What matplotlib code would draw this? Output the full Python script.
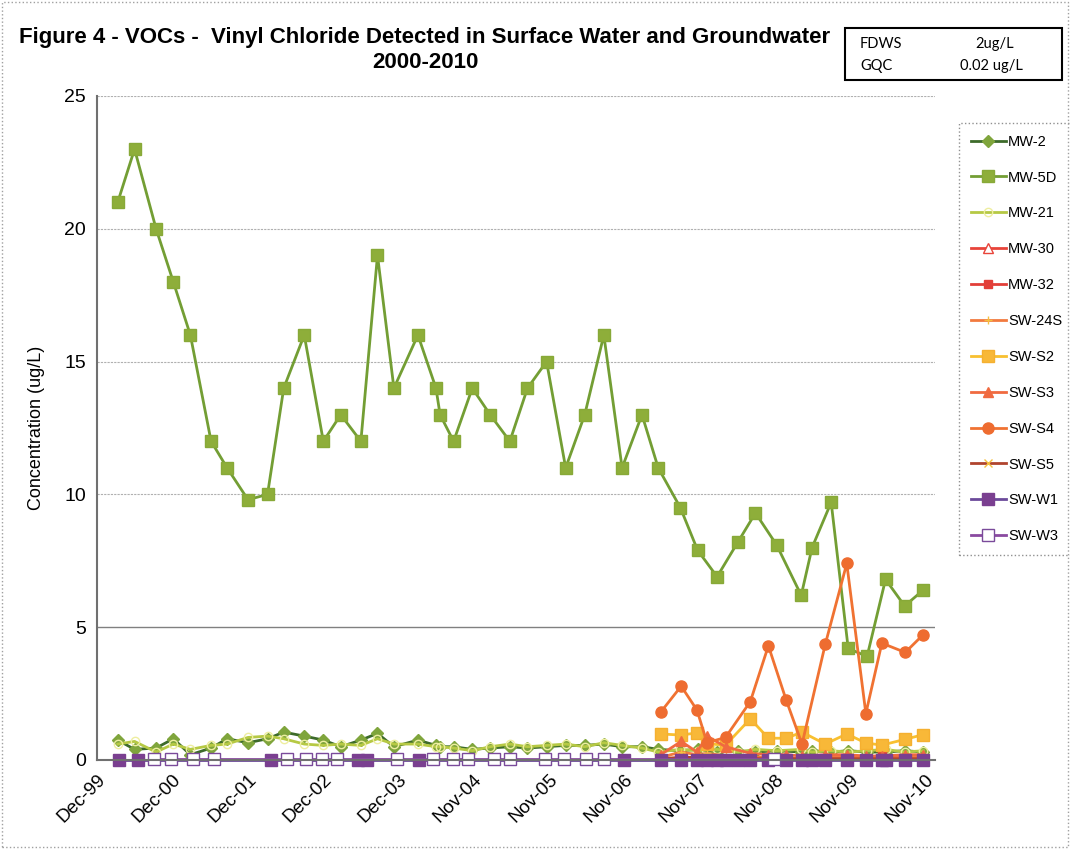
import numpy as np
import pandas as pd
import matplotlib
matplotlib.use("Agg")
import matplotlib.pyplot as plt
from matplotlib.patches import Rectangle

plt.rcParams['font.family'] = ['Liberation Sans', 'DejaVu Sans']

# sampling dates of the monitoring wells (MW series)
mw_dates = ['2000-03-18', '2000-06-08', '2000-09-21', '2000-12-14', '2001-03-07', '2001-06-16',
            '2001-09-02', '2001-12-13', '2002-03-18', '2002-06-05', '2002-09-13', '2002-12-15',
            '2003-03-10', '2003-06-16', '2003-09-05', '2003-11-24', '2004-03-20', '2004-06-16',
            '2004-07-06', '2004-09-10', '2004-12-10', '2005-03-07', '2005-06-11', '2005-09-05',
            '2005-12-07', '2006-03-10', '2006-06-11', '2006-09-12', '2006-12-10', '2007-03-17',
            '2007-06-04', '2007-09-20', '2007-12-13', '2008-03-17', '2008-06-26', '2008-09-20',
            '2009-01-01', '2009-05-01', '2009-06-23', '2009-09-24', '2009-12-16', '2010-03-18',
            '2010-06-16', '2010-09-17', '2010-12-17']

mw_5d = [21, 23, 20, 18, 16, 12, 11, 9.8, 10, 14, 16, 12, 13, 12, 19, 14, 16, 14, 13, 12,
         14, 13, 12, 14, 15, 11, 13, 16, 11, 13, 11, 9.5, 7.9, 6.9, 8.2, 9.3, 8.1, 6.2, 8.0, 9.7,
         4.2, 3.9, 6.8, 5.8, 6.4]

mw_2 = [0.75, 0.4, 0.45, 0.8, 0.2, 0.45, 0.8, 0.65, 0.8, 1.05, 0.9, 0.75, 0.5, 0.75, 1.0,
        0.5, 0.75, 0.55, 0.5, 0.5, 0.4, 0.45, 0.5, 0.45, 0.5, 0.55, 0.55, 0.6, 0.5, 0.5,
        0.4, 0.35, 0.4, 0.3, 0.35, 0.3, 0.35, 0.3, 0.35, 0.3, 0.35, 0.3, 0.3, 0.35, 0.3]

mw_21 = [0.6, 0.7, 0.3, 0.6, 0.4, 0.55, 0.6, 0.85, 0.9, 0.8, 0.6, 0.55, 0.6, 0.55, 0.8,
         0.6, 0.6, 0.5, 0.5, 0.45, 0.35, 0.5, 0.6, 0.5, 0.55, 0.6, 0.5, 0.65, 0.55, 0.45,
         0.3, 0.4, 0.35, 0.4, 0.3, 0.4, 0.35, 0.4, 0.3, 0.35, 0.3, 0.35, 0.4, 0.3, 0.35]

# surface water sampling dates 2007-2010
sw_dates = ['2007-06-16', '2007-09-24', '2007-12-10', '2008-01-28', '2008-04-27', '2008-08-26',
            '2008-11-22', '2009-02-17', '2009-05-05', '2009-08-26', '2009-12-09', '2010-03-12',
            '2010-05-29', '2010-09-20', '2010-12-14']

sw_s2 = [0.98, 0.94, 1.02, 0.62, 0.56, 1.55, 0.82, 0.82, 1.05, 0.6, 0.98, 0.64, 0.56, 0.78, 0.95]
sw_s4 = [1.8, 2.78, 1.88, 0.65, 0.85, 2.2, 4.3, 2.25, 0.6, 4.35, 7.4, 1.75, 4.4, 4.05, 4.7]
sw_s3 = [0.2, 0.7, 0.3, 0.9, 0.5, 0.25, 0.2, 0.2, 0.15, 0.2, 0.2, 0.15, 0.15, 0.2, 0.2]
sw_24s = [0.1, 0.3, 0.2, 0.25, 0.15, 0.1, 0.1, 0.1, 0.05, 0.1, 0.1, 0.1, 0.05, 0.1, 0.1]
sw_s5 = [0.05, 0.1, 0.1, 0.1, 0.05, 0.05, 0.05, 0.05, 0.05, 0.05, 0.05, 0.05, 0.05, 0.05, 0.05]
mw_30 = [0.0, 0.05, 0.05, 0.0, 0.05, 0.05, 0.0, 0.05, 0.0, 0.05, 0.05, 0.0, 0.15, 0.05, 0.0]
mw_32 = [0.0, 0.0, 0.05, 0.05, 0.0, 0.0, 0.05, 0.0, 0.05, 0.0, 0.0, 0.05, 0.2, 0.05, 0.0]

# SW-W1 and SW-W3 are essentially non-detects (0)
w1_dates = ['2000-03-25', '2000-06-25', '2002-04-05', '2003-06-01', '2003-07-15', '2004-03-25',
            '2006-12-20'] + sw_dates + ['2008-03-17', '2008-06-26', '2009-06-23', '2010-06-16']
w1_dates = sorted(w1_dates)
sw_w1 = [0.0] * len(w1_dates)

w3_dates = ['2000-09-10', '2000-12-01', '2001-03-20', '2001-06-30', '2002-06-20', '2002-09-20',
            '2002-12-10', '2003-02-20', '2003-12-10', '2004-06-01', '2004-09-05', '2004-11-20',
            '2005-03-25', '2005-06-10', '2005-12-01', '2006-03-01', '2006-06-15', '2006-09-15',
            '2008-12-20']
sw_w3 = [0.02] * len(w3_dates)

tick_dates = pd.date_range('1999-12-08', periods=12, freq='367D')
tick_labels = ['Dec-99', 'Dec-00', 'Dec-01', 'Dec-02', 'Dec-03', 'Nov-04', 'Nov-05',
               'Nov-06', 'Nov-07', 'Nov-08', 'Nov-09', 'Nov-10']

mwd = pd.to_datetime(mw_dates)
swd = pd.to_datetime(sw_dates)

fig = plt.figure(figsize=(10.7, 8.49), dpi=100)
ax = fig.add_axes([97 / 1070, 1 - 760 / 849, (935 - 97) / 1070, (760 - 96) / 849])

lw = 2.0
ax.plot(mwd, mw_2, color='#3d6b2a', lw=lw, marker='D', ms=6, mfc='#7fa53c', mec='#7fa53c', label='MW-2')
ax.plot(mwd, mw_5d, color='#739e34', lw=lw, marker='s', ms=8, mfc='#8eae3a', mec='#88a938', label='MW-5D')
ax.plot(mwd, mw_21, color='#b6c944', lw=lw, marker='o', ms=6, mfc='none', mec='#eeeea0', label='MW-21')
ax.plot(swd, mw_30, color='#e8443a', lw=lw, marker='^', ms=7, mfc='white', mec='#e8443a', label='MW-30')
ax.plot(swd, mw_32, color='#e23e38', lw=lw, marker='s', ms=6, mfc='#e23e38', mec='#e23e38', label='MW-32')
ax.plot(swd, sw_24s, color='#f27a3e', lw=lw, marker='+', ms=6, mec='#f5c040', label='SW-24S')
ax.plot(swd, sw_s2, color='#f8c030', lw=lw, marker='s', ms=8, mfc='#f8b838', mec='#f5b030', label='SW-S2')
ax.plot(swd, sw_s3, color='#f06a40', lw=lw, marker='^', ms=7, mfc='#f06a40', mec='#f06a40', label='SW-S3')
ax.plot(swd, sw_s4, color='#f07232', lw=lw, marker='o', ms=8, mfc='#ee6c30', mec='#ee6c30', label='SW-S4')
ax.plot(swd, sw_s5, color='#b0442e', lw=lw, marker='x', ms=6, mec='#f5c040', label='SW-S5')
ax.plot(pd.to_datetime(w1_dates), sw_w1, color='#6b4a9a', lw=lw, marker='s', ms=8,
        mfc='#7a3f90', mec='#7a3f90', label='SW-W1', clip_on=False)
ax.plot(pd.to_datetime(w3_dates), sw_w3, color='#8a4aa0', lw=lw, marker='s', ms=8,
        mfc='white', mec='#7a4a9a', label='SW-W3', clip_on=False)

ax.set_ylim(0, 25)
ax.set_yticks([0, 5, 10, 15, 20, 25])
ax.set_xlim(pd.Timestamp('1999-12-12'), pd.Timestamp('2011-02-12'))
ax.set_xticks(tick_dates)
ax.set_xticklabels(tick_labels, rotation=45, ha='right', rotation_mode='anchor', fontsize=13.5)
ax.tick_params(axis='y', labelsize=14, length=0, pad=8)
ax.tick_params(axis='x', length=0, pad=8)

for v in [10, 15, 20, 25]:
    ax.axhline(v, color='#b0b0b0', lw=0.8, ls=(0, (2, 1)), zorder=0)
ax.axhline(5, color='#808080', lw=1.0, zorder=0)

for s in ['top', 'right']:
    ax.spines[s].set_visible(False)
ax.spines['left'].set_color('#707070')
ax.spines['bottom'].set_color('#707070')
ax.spines['left'].set_linewidth(1.5)
ax.spines['bottom'].set_linewidth(1.5)

ax.set_ylabel('Concentration (ug/L)', fontsize=13, labelpad=14)

leg = ax.legend(loc='upper left', bbox_to_anchor=(959 / 1070, 1 - 123 / 849),
                bbox_transform=fig.transFigure, fontsize=10.5, labelspacing=1.5,
                handlelength=2.4, handletextpad=0.15, borderpad=0.8, borderaxespad=0,
                fancybox=False, edgecolor='#909090', framealpha=1)
leg.get_frame().set_linestyle(':')

fig.text(425 / 1070, 1 - 38 / 849, 'Figure 4 - VOCs -  Vinyl Chloride Detected in Surface Water and Groundwater',
         ha='center', va='center', fontsize=16, fontweight='bold')
fig.text(425 / 1070, 1 - 63 / 849, '2000-2010', ha='center', va='center', fontsize=16, fontweight='bold')

fig.patches.append(Rectangle((845 / 1070, 1 - 80 / 849), 217 / 1070, 52 / 849,
                             transform=fig.transFigure, fill=False, edgecolor='black', lw=1.5))
fig.text(860 / 1070, 1 - 44 / 849, 'FDWS', fontsize=10.5, va='center', family='Lato')
fig.text(975 / 1070, 1 - 44 / 849, '2ug/L', fontsize=10.5, va='center', family='Lato')
fig.text(860 / 1070, 1 - 66 / 849, 'GQC', fontsize=10.5, va='center', family='Lato')
fig.text(960 / 1070, 1 - 66 / 849, '0.02 ug/L', fontsize=10.5, va='center', family='Lato')

fig.patches.append(Rectangle((2 / 1070, 2 / 849), 1066 / 1070, 845 / 849, transform=fig.transFigure,
                             fill=False, edgecolor='#a0a0a0', lw=1, ls=':'))

fig.savefig('out.png', dpi=100)
